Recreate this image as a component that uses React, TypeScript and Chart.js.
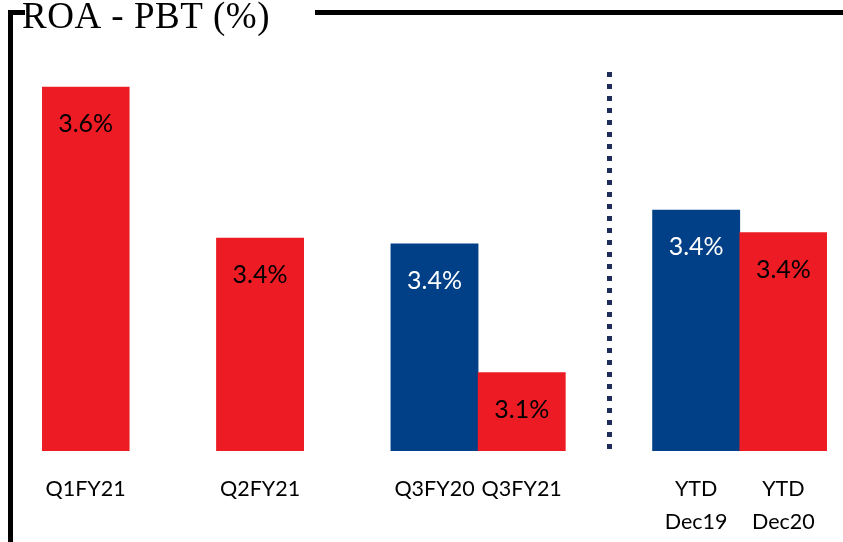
import React, { useEffect, useRef } from "react";
import { Chart, registerables } from "chart.js";

Chart.register(...registerables);

// Slots along the x axis ("" = spacer slot between groups)
const categories: string[][] = [
  ["Q1FY21"],
  [""],
  ["Q2FY21"],
  [""],
  ["Q3FY20"],
  ["Q3FY21"],
  [""],
  ["YTD", "Dec19"],
  ["YTD", "Dec20"],
];
// ROA - PBT values (%)
const roaValues: (number | null)[] = [3.64, null, 3.37, null, 3.36, 3.13, null, 3.42, 3.38];
// Printed labels inside bars
const valueLabels: string[] = ["3.6%", "", "3.4%", "", "3.4%", "3.1%", "", "3.4%", "3.4%"];
// Period type: "prev" = prior year (blue), "curr" = current year (red)
const periodType: string[] = ["curr", "", "curr", "", "prev", "curr", "", "prev", "curr"];
const dividerSlot = 6;
const titleText = "ROA - PBT (%)";
const yMin = 2.99;
const yMax = 3.7;

const RED = "#ED1C24";
const BLUE = "#013F87";

export default function App() {
  const ref = useRef<HTMLCanvasElement | null>(null);
  useEffect(() => {
    if (!ref.current) return;
    const decor = {
      id: "decor",
      beforeDraw(chart: any) {
        const ctx = chart.ctx;
        ctx.save();
        ctx.fillStyle = "#ffffff";
        ctx.fillRect(0, 0, chart.width, chart.height);
        ctx.restore();
      },
      afterDatasetsDraw(chart: any) {
        const ctx = chart.ctx;
        const xs = chart.scales.x;
        const area = chart.chartArea;
        const meta = chart.getDatasetMeta(0);
        ctx.save();
        // frame
        ctx.strokeStyle = "#000";
        ctx.lineWidth = 5;
        ctx.beginPath();
        ctx.moveTo(10.5, 542);
        ctx.lineTo(10.5, 12.5);
        ctx.lineTo(25, 12.5);
        ctx.moveTo(315, 12.5);
        ctx.lineTo(843, 12.5);
        ctx.stroke();
        // title
        ctx.fillStyle = "#000";
        ctx.font = '37px "Liberation Serif"';
        (ctx as any).letterSpacing = "0.5px";
        ctx.textAlign = "left";
        ctx.textBaseline = "alphabetic";
        ctx.fillText(titleText, 22, 28);
        (ctx as any).letterSpacing = "0px";
        // divider
        const dx = Math.round(xs.getPixelForValue(dividerSlot)) + 0.5;
        ctx.strokeStyle = "#1F2D5C";
        ctx.lineWidth = 5;
        ctx.setLineDash([5, 7]);
        ctx.beginPath();
        ctx.moveTo(dx, 72);
        ctx.lineTo(dx, area.bottom);
        ctx.stroke();
        ctx.setLineDash([]);
        // value labels
        ctx.font = '25px "Lato"';
        ctx.textAlign = "center";
        ctx.textBaseline = "middle";
        meta.data.forEach((bar: any, i: number) => {
          if (roaValues[i] == null) return;
          ctx.fillStyle = periodType[i] === "prev" ? "#ffffff" : "#000000";
          ctx.fillText(valueLabels[i], bar.x, bar.y + 37);
        });
        // category labels
        ctx.font = '21.5px "Lato"';
        ctx.fillStyle = "#000";
        categories.forEach((lines, i) => {
          const x = xs.getPixelForValue(i);
          lines.forEach((t, j) => {
            if (t) ctx.fillText(t, x, 489 + j * 33);
          });
        });
        ctx.restore();
      },
    };
    const chart = new Chart(ref.current, {
      type: "bar",
      data: {
        labels: categories.map((c) => c.join(" ")),
        datasets: [
          {
            data: roaValues as any,
            backgroundColor: periodType.map((p) => (p === "prev" ? BLUE : RED)),
            borderWidth: 0,
            barPercentage: 1,
            categoryPercentage: 1,
          },
        ],
      },
      options: {
        responsive: false,
        animation: false,
        layout: { padding: { left: 42, right: 16, top: 451 - (yMax - yMin) * 560, bottom: 91 } },
        plugins: { legend: { display: false }, tooltip: { enabled: false } },
        scales: {
          x: { display: false },
          y: { display: false, min: yMin, max: yMax },
        },
      },
      plugins: [decor],
    });
    return () => chart.destroy();
  }, []);
  return (
    <div style={{ position: "fixed", left: 0, top: 0, width: 843, height: 542, background: "#fff" }}>
      <canvas ref={ref} width={843} height={542} />
    </div>
  );
}
